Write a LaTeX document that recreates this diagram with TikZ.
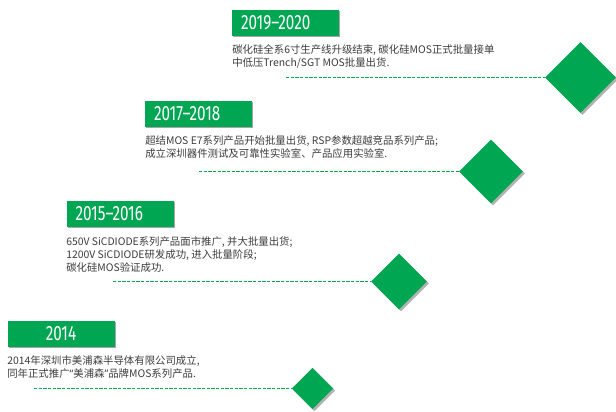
\documentclass[tikz,border=0pt]{standalone}
\usepackage{fontspec}
\newfontfamily\cjk{Noto Sans CJK SC}
\newfontfamily\latinq{Noto Sans}
\newfontfamily\yearfont[FakeStretch=0.74]{Fira Sans}
\usetikzlibrary{shapes.geometric,shadows}

\definecolor{mosgreen}{HTML}{00A651}
\definecolor{dashgreen}{HTML}{00AA4E}
\definecolor{bodygray}{HTML}{3C3C3C}

\tikzset{
  yearbox/.style={fill=mosgreen, text=white, text width=66.75pt, minimum height=19.5pt,
    inner xsep=6.75pt, inner ysep=0pt, align=left, font=\yearfont\fontsize{15.5}{15.5}\selectfont,
    drop shadow={shadow xshift=0.8pt, shadow yshift=-0.8pt, opacity=0.35, fill=black}},
  notetext/.style={anchor=north west, align=left, inner sep=0pt, text=bodygray,
    font=\cjk\fontsize{7.8}{10}\selectfont},
  milestone/.style={diamond, fill=mosgreen, inner sep=0pt, aspect=1,
    drop shadow={shadow xshift=1.5pt, shadow yshift=-1.5pt, opacity=0.3, fill=black}},
  timeline/.style={dashgreen, dash pattern=on 2.4pt off 1.1pt, line width=0.9pt}
}

\begin{document}
\begin{tikzpicture}[x=0.75pt, y=-0.75pt, line cap=butt]

                \useasboundingbox (0,0) rectangle (616,411);

                % 2019-2020
                \node[yearbox] (y1920) at (285.5,22.5) {2019–2020};
                \node[notetext] (t1920) at (232,44.5) {碳化硅全系6寸生产线升级结束, 碳化硅MOS正式批量接单\\中低压Trench/SGT MOS批量出货.};
                \node[milestone, minimum size=53.3pt] (d1920) at (580.5,77.5) {};
                \coordinate (s1920) at (286,77.5);
                \draw[timeline] (s1920) -- (d1920.west);

                % 2017-2018
                \node[yearbox] (y1718) at (198.5,114) {2017–2018};
                \node[notetext] (t1718) at (145,135.5) {超结MOS E7系列产品开始批量出货, RSP参数超越竞品系列产品;\\成立深圳器件测试及可靠性实验室、产品应用实验室.};
                \node[milestone, minimum size=48pt] (d1718) at (491,171.5) {};
                \coordinate (s1718) at (199,171.5);
                \draw[timeline] (s1718) -- (d1718.west);

                % 2015-2016
                \node[yearbox] (y1516) at (120,214) {2015–2016};
                \node[notetext] (t1516) at (66,236) {650V SiCDIODE系列产品面市推广, 并大批量出货;\\1200V SiCDIODE研发成功, 进入批量阶段;\\碳化硅MOS验证成功.};
                \node[milestone, minimum size=42pt] (d1516) at (399,281.5) {};
                \coordinate (s1516) at (113,281.5);
                \draw[timeline] (s1516) -- (d1516.west);

                % 2014
                \node[yearbox, align=center] (y14) at (61,334) {2014};
                \node[notetext] (t14) at (7,355.5) {2014年深圳市美浦森半导体有限公司成立,\\同年正式推广{\latinq“}美浦森{\latinq”}品牌MOS系列产品.};
                \node[milestone, minimum size=31pt] (d14) at (312.5,388.5) {};
                \coordinate (s14) at (34,388.5);
                \draw[timeline] (s14) -- (d14.west);

\end{tikzpicture}
\end{document}
